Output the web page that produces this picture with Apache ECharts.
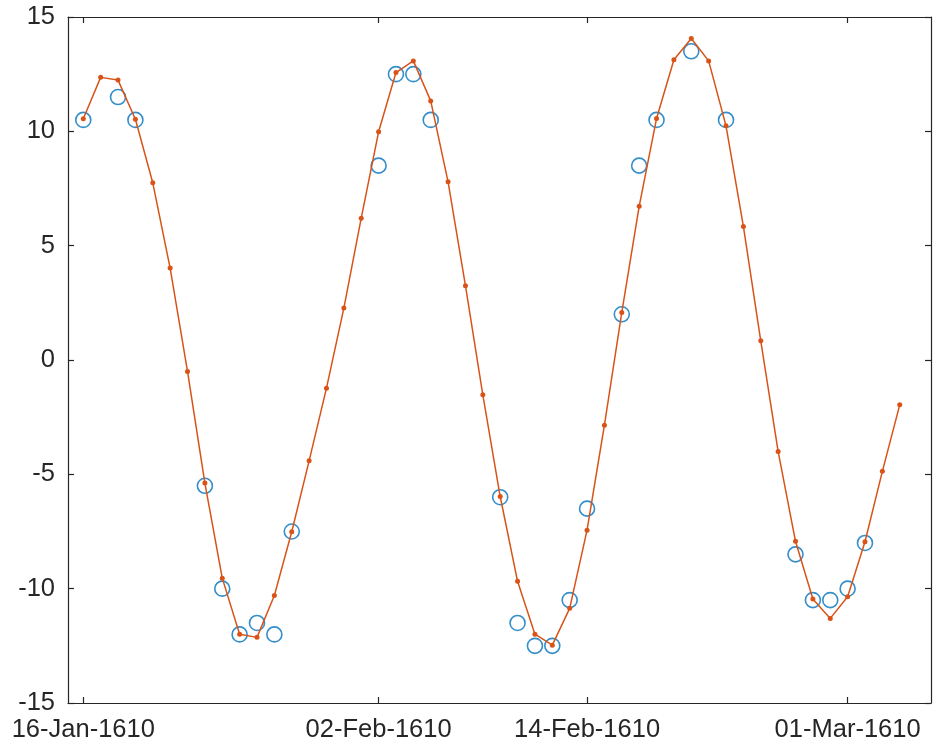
<!DOCTYPE html>
<html>
<head>
<meta charset="utf-8">
<script src="https://cdn.jsdelivr.net/npm/echarts@6/dist/echarts.min.js"></script>
<style>
html,body{margin:0;padding:0;background:#fff;}
#chart{width:933px;height:748px;}
</style>
</head>
<body>
<div id="chart"></div>
<script>
// Model curve: one value per day starting at startDate
const startDate = '1610-01-16';
const modelValues = [
  10.55, 12.36, 12.24, 10.53, 7.75, 4.02, -0.5, -5.38, -9.54, -11.99,
  -12.13, -10.3, -7.51, -4.41, -1.23, 2.27, 6.2, 9.98, 12.57, 13.08,
  11.33, 7.79, 3.25, -1.52, -5.97, -9.68, -11.99, -12.47, -10.86, -7.44,
  -2.85, 2.08, 6.72, 10.56, 13.13, 14.06, 13.08, 10.24, 5.84, 0.84,
  -4.0, -7.93, -10.45, -11.3, -10.35, -7.95, -4.87, -1.96
];
// Observations
const obsDates = [
  '1610-01-16', '1610-01-18', '1610-01-19', '1610-01-23', '1610-01-24',
  '1610-01-25', '1610-01-26', '1610-01-27', '1610-01-28', '1610-02-02',
  '1610-02-03', '1610-02-04', '1610-02-05', '1610-02-09', '1610-02-10',
  '1610-02-11', '1610-02-12', '1610-02-13', '1610-02-14', '1610-02-16',
  '1610-02-17', '1610-02-18', '1610-02-20', '1610-02-22', '1610-02-26',
  '1610-02-27', '1610-02-28', '1610-03-01', '1610-03-02'
];
const obsValues = [
  10.5, 11.5, 10.5, -5.5, -10, -12, -11.5, -12, -7.5, 8.5,
  12.5, 12.5, 10.5, -6, -11.5, -12.5, -12.5, -10.5, -6.5, 2,
  8.5, 10.5, 13.5, 10.5, -8.5, -10.5, -10.5, -10, -8
];
const xTickDates = ['1610-01-16', '1610-02-02', '1610-02-14', '1610-03-01'];
const yTicks = [-15, -10, -5, 0, 5, 10, 15];

const DAY = 86400000;
function toUTC(s) { const p = s.split('-').map(Number); return Date.UTC(p[0], p[1] - 1, p[2]); }
const t0 = toUTC(startDate);
function dayOf(s) { return Math.round((toUTC(s) - t0) / DAY); }
const MON = ['Jan','Feb','Mar','Apr','May','Jun','Jul','Aug','Sep','Oct','Nov','Dec'];
function fmt(d) {
  const dt = new Date(t0 + Math.round(d) * DAY);
  const dd = String(dt.getUTCDate()).padStart(2, '0');
  return dd + '-' + MON[dt.getUTCMonth()] + '-' + dt.getUTCFullYear();
}

const modelData = modelValues.map((v, i) => [i, v]);
const obsData = obsDates.map((s, i) => [dayOf(s), obsValues[i]]);
const xTickVals = xTickDates.map(dayOf);

const AX = '#262626';
const FONT = "'Liberation Sans', Arial, Helvetica, sans-serif";
const FS = 25.5;
const xMin = -0.88, xMax = 48.8;

const chart = echarts.init(document.getElementById('chart'), null, { renderer: 'canvas' });
chart.setOption({
  animation: false,
  backgroundColor: '#ffffff',
  grid: { left: 68, right: 2, top: 17, bottom: 45, outerBoundsMode: 'none', containLabel: false },
  xAxis: [
    {
      type: 'value', min: xMin, max: xMax, position: 'bottom',
      axisLine: { show: true, onZero: false, lineStyle: { color: AX, width: 1.2 } },
      axisTick: { show: true, inside: true, length: 6, customValues: xTickVals, lineStyle: { color: AX, width: 1.2 } },
      axisLabel: { show: true, customValues: xTickVals, formatter: v => fmt(v), color: AX, fontSize: FS, fontFamily: FONT, margin: 14 },
      splitLine: { show: false }
    },
    {
      type: 'value', min: xMin, max: xMax, position: 'top',
      axisLine: { show: true, onZero: false, lineStyle: { color: AX, width: 1.2 } },
      axisTick: { show: true, inside: true, length: 6, customValues: xTickVals, lineStyle: { color: AX, width: 1.2 } },
      axisLabel: { show: false },
      splitLine: { show: false }
    }
  ],
  yAxis: [
    {
      type: 'value', min: -15, max: 15, interval: 5, position: 'left',
      axisLine: { show: true, onZero: false, lineStyle: { color: AX, width: 1.2 } },
      axisTick: { show: true, inside: true, length: 6, customValues: yTicks, lineStyle: { color: AX, width: 1.2 } },
      axisLabel: { show: true, customValues: yTicks, color: AX, fontSize: FS, fontFamily: FONT, margin: 13 },
      splitLine: { show: false }
    },
    {
      type: 'value', min: -15, max: 15, interval: 5, position: 'right',
      axisLine: { show: true, onZero: false, lineStyle: { color: AX, width: 1.2 } },
      axisTick: { show: true, inside: true, length: 6, customValues: yTicks, lineStyle: { color: AX, width: 1.2 } },
      axisLabel: { show: false },
      splitLine: { show: false }
    }
  ],
  series: [
    {
      name: 'Observed', type: 'scatter', xAxisIndex: 0, yAxisIndex: 0,
      data: obsData, symbol: 'circle', symbolSize: 15, z: 2,
      itemStyle: { color: 'rgba(0,0,0,0)', borderColor: '#0072BD', borderWidth: 1.6 }
    },
    {
      name: 'Model', type: 'line', xAxisIndex: 0, yAxisIndex: 0,
      data: modelData, symbol: 'circle', symbolSize: 5, showSymbol: true, z: 3,
      lineStyle: { color: '#D95319', width: 1.5 },
      itemStyle: { color: '#D95319', borderWidth: 0 }
    }
  ]
});
</script>
</body>
</html>
